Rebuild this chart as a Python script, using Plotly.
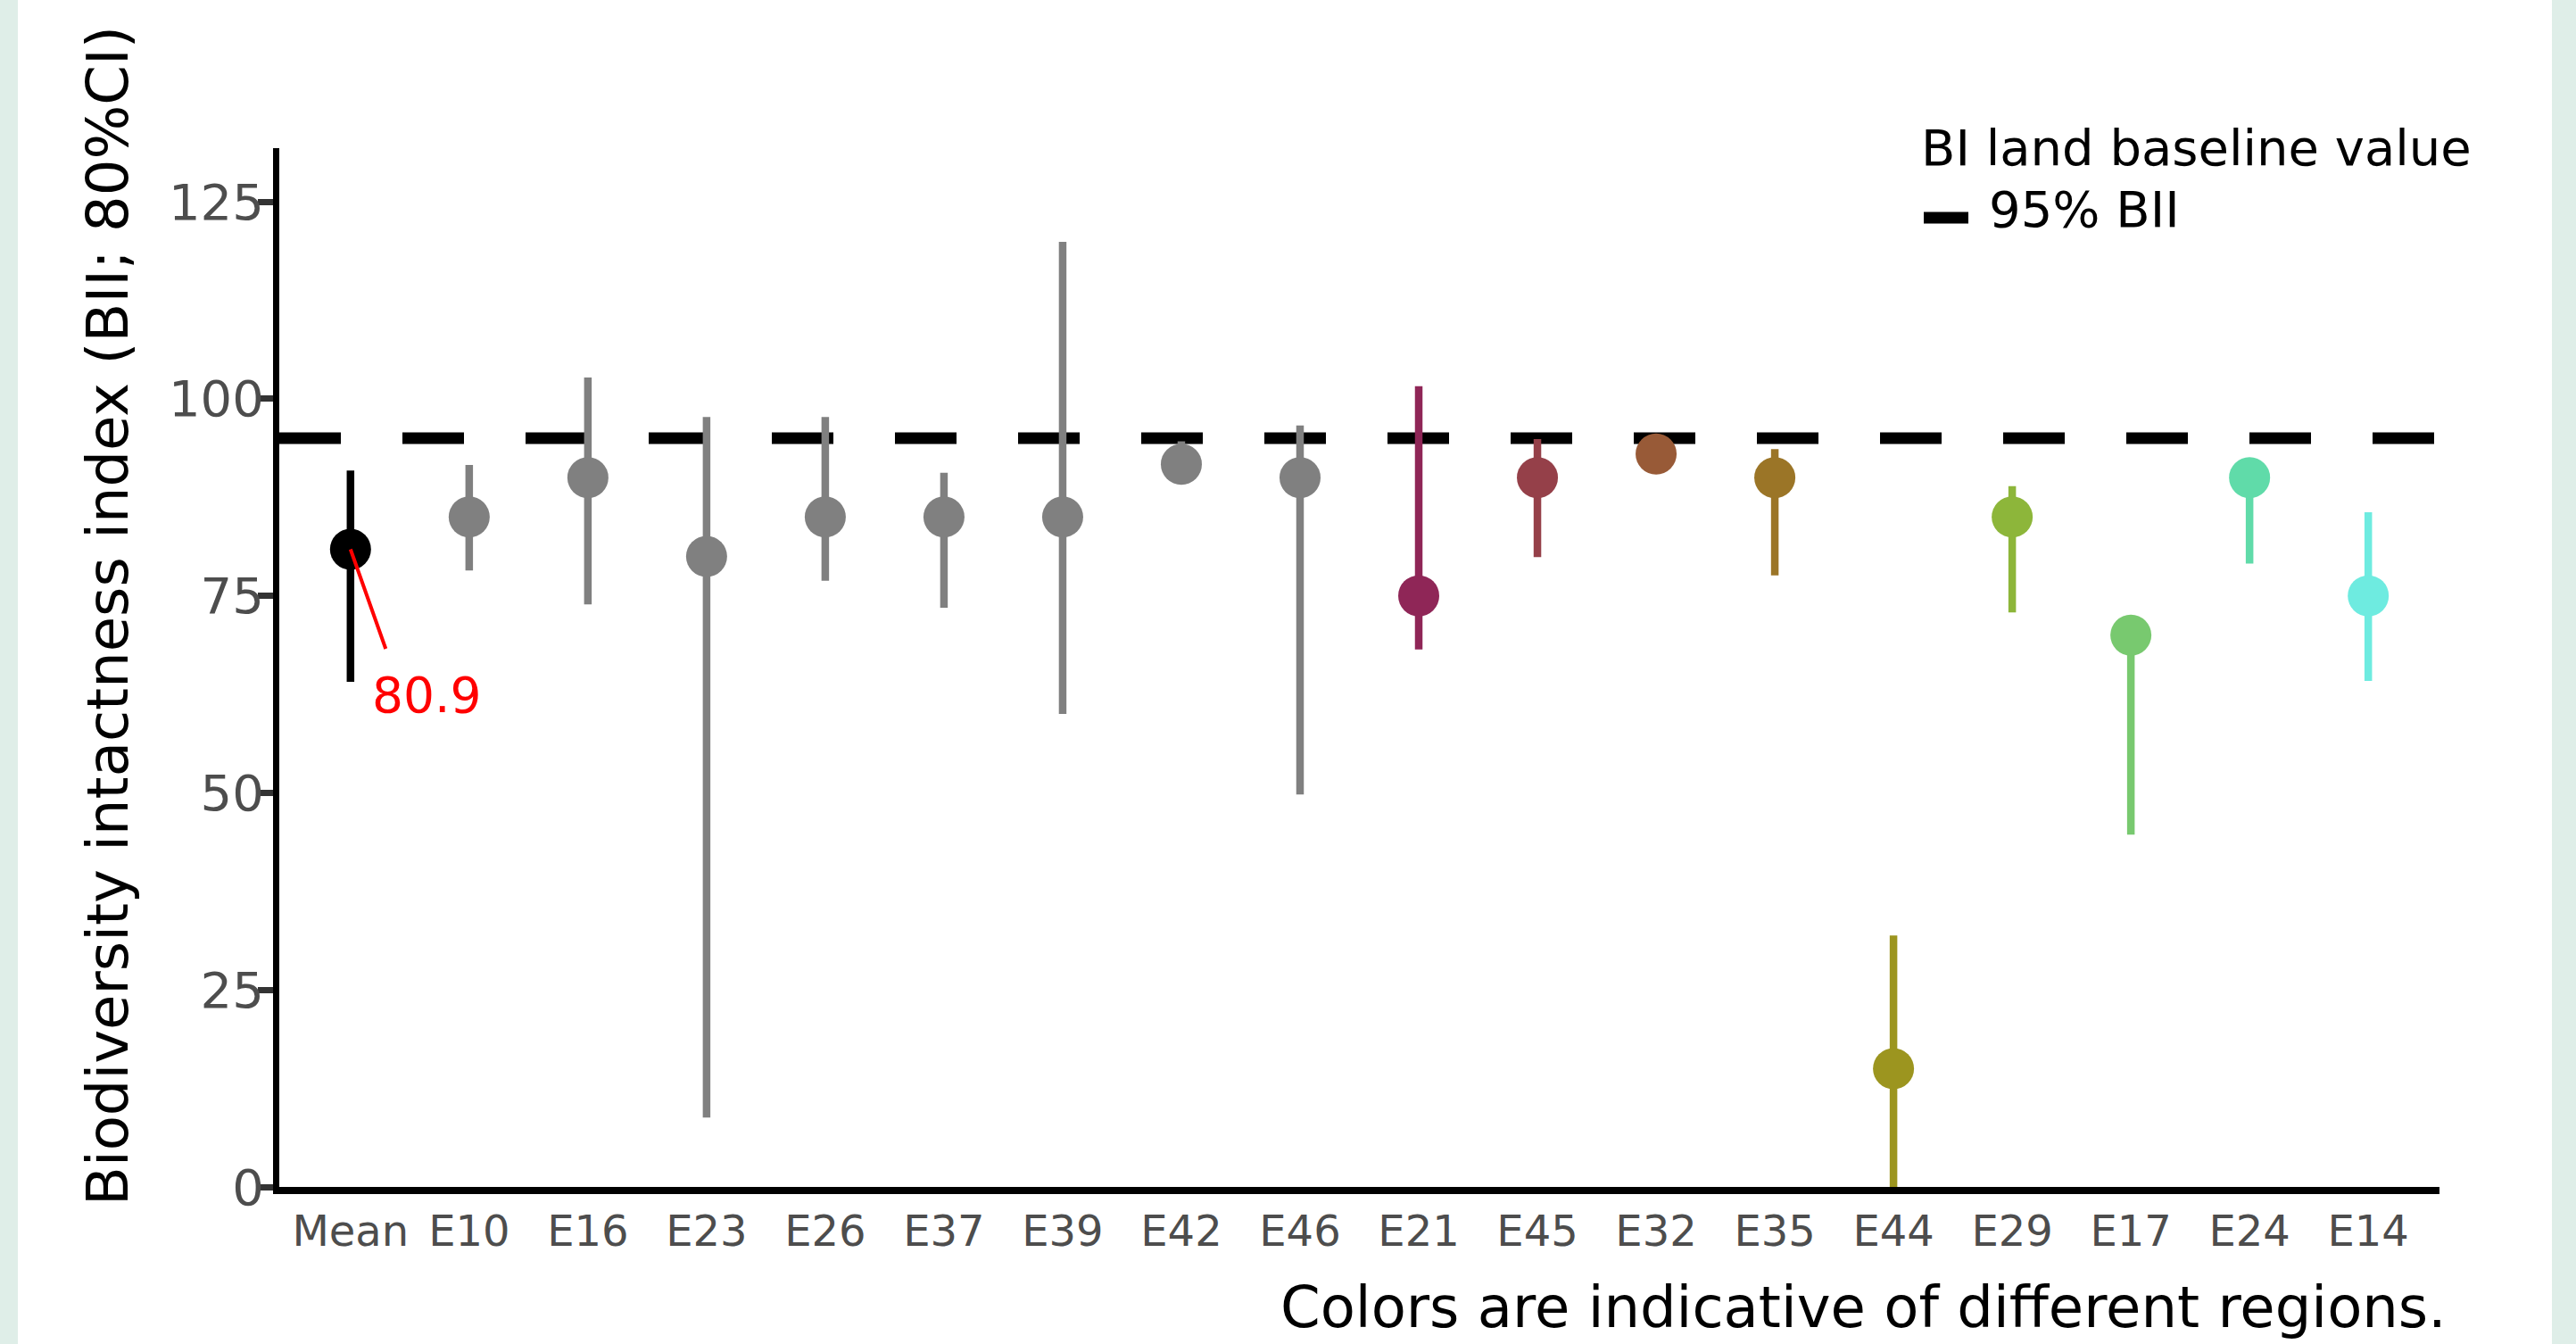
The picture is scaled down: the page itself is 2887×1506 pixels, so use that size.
import plotly.graph_objects as go

# ---- data ----
categories = ["Mean", "E10", "E16", "E23", "E26", "E37", "E39", "E42", "E46",
              "E21", "E45", "E32", "E35", "E44", "E29", "E17", "E24", "E14"]
bii = [80.9, 85, 90, 80, 85, 85, 85, 91.7, 90, 75, 90, 93, 90, 15, 85, 70, 90, 75]
ci_low = [64.1, 78.2, 73.9, 8.8, 76.9, 73.5, 60.0, 89.5, 49.8, 68.2, 79.9, 91.5,
          77.6, 0.0, 72.9, 44.7, 79.1, 64.2]
ci_high = [90.9, 91.6, 102.7, 97.7, 97.7, 90.6, 119.9, 94.6, 96.6, 101.6, 94.9,
           94.5, 93.6, 31.9, 88.9, 71.5, 91.5, 85.6]
baseline = 95
baseline_label = "95% BII"
y_ticks = [0, 25, 50, 75, 100, 125]

# ---- styles ----
colors = ["#000000"] + ["#808080"] * 8 + ["#8F2657", "#954049", "#985A37", "#9B7527",
                                          "#9C951F", "#8DB63A", "#78C96F", "#60DBA9", "#6EEBE0"]
FONT = "DejaVu Sans"
W, H = 2887, 1506
ML, MR, MT, MB = 313, 153, 166, 176
PW = W - ML - MR
PH = H - MT - MB


def px_x(px):
    return (px - ML) / PW


def px_y(py):
    return (H - MB - py) / PH


fig = go.Figure()

# baseline (drawn first so the error bars sit on top of it)
fig.add_shape(type="line", xref="x domain", yref="y", x0=0, x1=1,
              y0=baseline, y1=baseline,
              line=dict(color="black", width=13, dash="69px,69px"), layer="below")

for cat, val, lo, hi, c in zip(categories, bii, ci_low, ci_high, colors):
    fig.add_trace(go.Scatter(
        x=[cat], y=[val], mode="markers",
        marker=dict(size=46, color=c, line=dict(width=0)),
        error_y=dict(type="data", symmetric=False, array=[hi - val],
                     arrayminus=[val - lo], color=c, thickness=8.5, width=0),
        showlegend=False, cliponaxis=False,
    ))

# green side bands
for x0, x1 in [(0, 20), (2860, W)]:
    fig.add_shape(type="rect", xref="paper", yref="paper", x0=px_x(x0), x1=px_x(x1),
                  y0=px_y(H), y1=px_y(0), fillcolor="#DFEEE8", line=dict(width=0),
                  layer="below")

# legend (title, key, label)
fig.add_annotation(xref="paper", yref="paper", x=px_x(2151), y=px_y(165),
                   text="BI land baseline value", showarrow=False,
                   xanchor="left", yanchor="middle",
                   font=dict(family=FONT, size=56, color="black"))
fig.add_shape(type="line", xref="paper", yref="paper", x0=px_x(2156), x1=px_x(2206),
              y0=px_y(244), y1=px_y(244), line=dict(color="black", width=13))
fig.add_annotation(xref="paper", yref="paper", x=px_x(2227), y=px_y(234),
                   text=baseline_label, showarrow=False,
                   xanchor="left", yanchor="middle",
                   font=dict(family=FONT, size=56, color="black"))

# mean label
mean_val = bii[0]
fig.add_annotation(x=categories[0], y=mean_val, text="", showarrow=True,
                   arrowhead=0, arrowwidth=4, arrowcolor="#FF0000",
                   ax=40, ay=113, standoff=0, startstandoff=0)
fig.add_annotation(x=categories[0], y=mean_val, text=f"{mean_val}", showarrow=False,
                   xanchor="left", yanchor="middle", xshift=22, yshift=-163,
                   font=dict(family=FONT, size=55, color="#FF0000"))

# y-axis title
fig.add_annotation(xref="paper", yref="paper", x=px_x(121), y=px_y(690),
                   text="Biodiversity intactness index (BII; 80%CI)", textangle=-90,
                   showarrow=False, xanchor="center", yanchor="middle",
                   font=dict(family=FONT, size=64, color="black"))
# caption
fig.add_annotation(xref="paper", yref="paper", x=px_x(2744), y=px_y(1465),
                   text="Colors are indicative of different regions.",
                   showarrow=False, xanchor="right", yanchor="middle",
                   font=dict(family=FONT, size=64, color="black"))

fig.update_layout(
    width=W, height=H,
    margin=dict(l=ML, r=MR, t=MT, b=MB, pad=0),
    paper_bgcolor="white", plot_bgcolor="white",
    font=dict(family=FONT, color="black"),
    showlegend=False,
    xaxis=dict(type="category", categoryorder="array", categoryarray=categories,
               range=[-0.6, len(categories) - 0.4],
               showline=True, linewidth=8, linecolor="black", mirror=False,
               showgrid=False, zeroline=False, ticks="", ticklabelstandoff=0,
               tickfont=dict(family=FONT, size=48, color="#4D4D4D")),
    yaxis=dict(range=[0, 131.8], tickvals=y_ticks,
               showline=True, linewidth=7, linecolor="black",
               showgrid=False, zeroline=False, ticks="outside", ticklen=17,
               tickwidth=7, tickcolor="#333333", ticklabelstandoff=-18,
               tickfont=dict(family=FONT, size=56, color="#4D4D4D")),
)

fig.write_html("out.html", config={"displayModeBar": False},
               post_script="document.body.style.margin='0';document.body.style.overflow='hidden';")
